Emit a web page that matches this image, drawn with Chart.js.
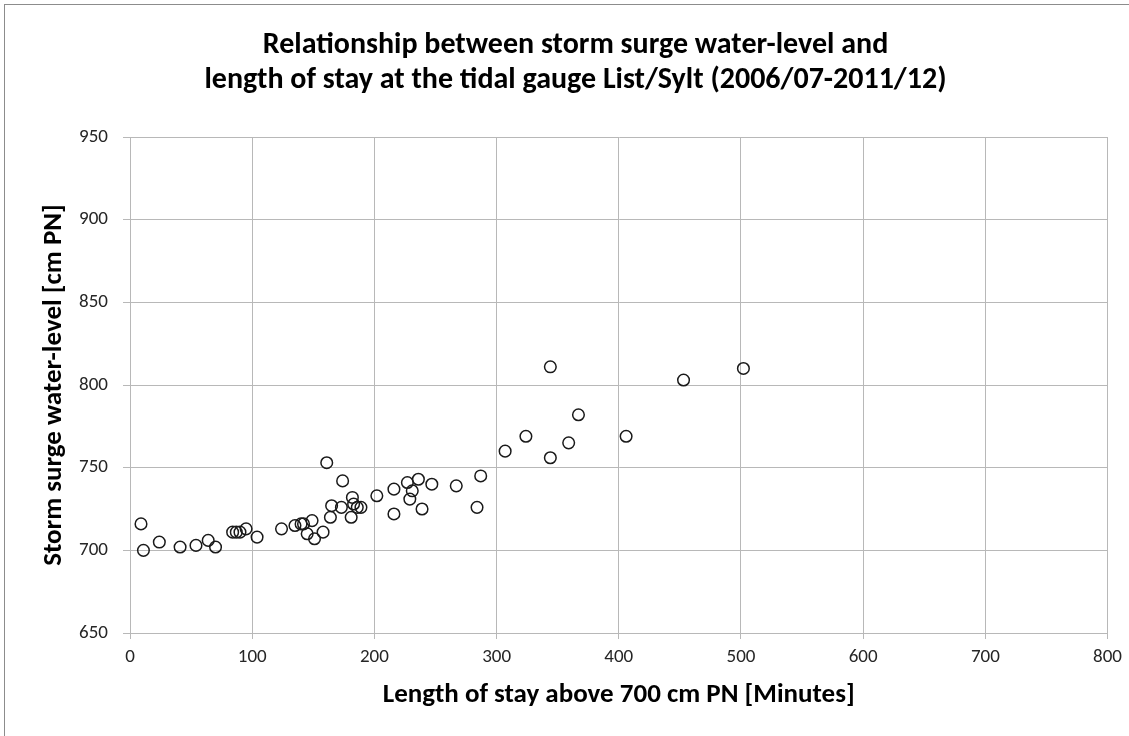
<!DOCTYPE html>
<html>
<head>
<meta charset="utf-8">
<script src="https://cdn.jsdelivr.net/npm/chart.js@4.4.1/dist/chart.umd.min.js"></script>
<style>
  html, body { margin: 0; padding: 0; background: #fff; }
  #wrap { width: 1129px; height: 736px; position: relative; }
</style>
</head>
<body>
<div id="wrap"><canvas id="c" width="1129" height="736"></canvas></div>
<script>
// 图表文本
const TITLE_LINES = [
  'Relationship between storm surge water-level and',
  'length of stay at the tidal gauge List/Sylt (2006/07-2011/12)',
];
const X_TITLE = 'Length of stay above 700 cm PN [Minutes]';
const Y_TITLE = 'Storm surge water-level [cm PN]';

// 数据：停留时长（分钟）与水位（cm PN）
const STAY_MIN = [
  9, 11, 24, 41, 54, 64, 70, 84, 87, 90, 95, 104,
  124, 135, 140, 142, 145, 149, 151, 158, 161, 164, 165, 173, 174,
  181, 182, 183, 186, 189, 202, 216, 216, 227, 229, 231, 236, 239, 247,
  267, 284, 287, 307, 324, 344, 344, 359, 367, 406, 453, 502,
];
const WATER_LEVEL = [
  716, 700, 705, 702, 703, 706, 702, 711, 711, 711, 713, 708,
  713, 715, 716, 716, 710, 718, 707, 711, 753, 720, 727, 726, 742,
  720, 732, 728, 726, 726, 733, 722, 737, 741, 731, 736, 743, 725, 740,
  739, 726, 745, 760, 769, 756, 811, 765, 782, 769, 803, 810,
];

const X_MIN = 0, X_MAX = 800, X_STEP = 100;
const Y_MIN = 650, Y_MAX = 950, Y_STEP = 50;

const FONT = "Carlito, 'Liberation Sans Narrow', 'DejaVu Sans Condensed', sans-serif";
const GRID = '#b8b8b8';
const INK = '#262626';

const points = STAY_MIN.map((x, i) => ({ x, y: WATER_LEVEL[i] }));

// 外框
const frame = {
  id: 'frame',
  beforeDraw(chart) {
    const c = chart.ctx;
    c.save();
    c.fillStyle = '#fff';
    c.fillRect(0, 0, chart.width, chart.height);
    c.strokeStyle = '#8c8c8c';
    c.lineWidth = 1;
    c.strokeRect(4.5, 4.5, chart.width + 20, chart.height + 20);
    c.restore();
  }
};

new Chart(document.getElementById('c'), {
  type: 'scatter',
  data: { datasets: [{
    data: points,
    borderColor: '#1a1a1a',
    backgroundColor: 'rgba(0,0,0,0)',
    borderWidth: 1.5,
    pointRadius: 5.8, pointHoverRadius: 5.8,
  }]},
  options: {
    responsive: false, animation: false,
    layout: { padding: { left: 38, right: 16, top: 0, bottom: 0 } },
    plugins: {
      legend: { display: false },
      tooltip: { enabled: false },
      title: {
        display: true, text: TITLE_LINES, color: '#000',
        font: { family: FONT, size: 30, weight: 'bold', lineHeight: 1.167 },
        padding: { top: 27.5, bottom: 39.5 },
      },
    },
    scales: {
      x: {
        type: 'linear', min: X_MIN, max: X_MAX,
        afterFit: s => { s.height = 103; },
        ticks: { stepSize: X_STEP, color: INK, padding: 7, font: { family: FONT, size: 19 } },
        grid: { color: GRID, tickLength: 6 },
        border: { color: GRID },
        title: {
          display: true, text: X_TITLE, color: '#000',
          font: { family: FONT, size: 27, weight: 'bold', lineHeight: 1.2 },
          padding: { top: 0, bottom: 25 },
        },
      },
      y: {
        type: 'linear', min: Y_MIN, max: Y_MAX,
        afterFit: s => { s.width = 92; },
        ticks: { stepSize: Y_STEP, color: INK, padding: 15, font: { family: FONT, size: 19 } },
        grid: { color: GRID, tickLength: 7 },
        border: { color: GRID },
        title: {
          display: true, text: Y_TITLE, color: '#000',
          font: { family: FONT, size: 27, weight: 'bold', lineHeight: 1.2 },
          padding: { top: 0, bottom: 0 },
        },
      },
    },
  },
  plugins: [frame],
});
</script>
</body>
</html>
